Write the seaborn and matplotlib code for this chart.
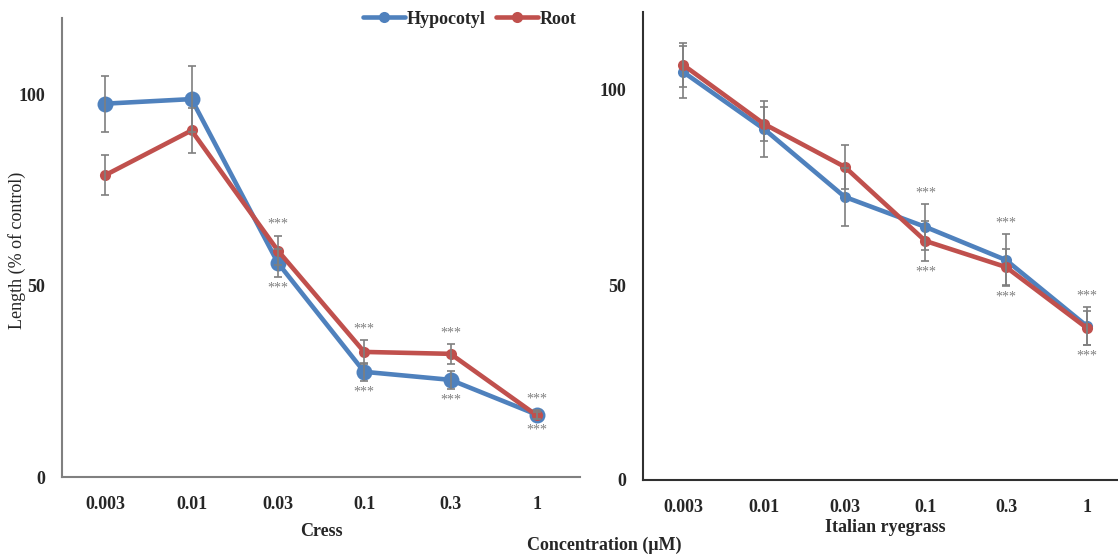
import numpy as np
import matplotlib
matplotlib.use("Agg")
import matplotlib.pyplot as plt
import seaborn as sns

CONCENTRATIONS = ["0.003", "0.01", "0.03", "0.1", "0.3", "1"]

cress_hypocotyl = [97.6, 98.8, 56.0, 27.5, 25.4, 16.3]
cress_hypocotyl_err = [7.3, 8.6, 3.6, 2.3, 2.3, 1.2]
cress_root = [78.9, 90.6, 59.2, 32.7, 32.2, 16.1]
cress_root_err = [5.2, 6.0, 3.9, 3.2, 2.6, 1.0]

rye_hypocotyl = [104.6, 90.0, 72.6, 64.9, 56.4, 39.5]
rye_hypocotyl_err = [6.6, 7.2, 7.5, 5.9, 6.7, 4.9]
rye_root = [106.4, 91.3, 80.3, 61.3, 54.6, 39.0]
rye_root_err = [5.7, 4.3, 5.6, 5.1, 4.6, 4.3]

# indices of concentrations marked *** (above and below the pair)
cress_sig = [2, 3, 4, 5]
rye_sig = [3, 4, 5]

BLUE = "#4F81BD"
RED = "#C0504D"
ERR = "#7f7f7f"

sns.set_style("white")
plt.rcParams["font.family"] = ["Liberation Serif", "DejaVu Serif"]


def draw_panel(ax, hyp, hyp_err, root, root_err, sig, hyp_ms, spine_color,
               xlabel, labelpad):
    x = np.arange(len(CONCENTRATIONS))
    sns.lineplot(x=x, y=hyp, ax=ax, color=BLUE, marker="o", markersize=hyp_ms,
                 markeredgecolor=BLUE, markeredgewidth=0, linewidth=3.3,
                 label="Hypocotyl", legend=False, zorder=2)
    sns.lineplot(x=x, y=root, ax=ax, color=RED, marker="o", markersize=8,
                 markeredgecolor=RED, markeredgewidth=0, linewidth=3.3,
                 label="Root", legend=False, zorder=3)
    ax.errorbar(x, hyp, yerr=hyp_err, fmt="none", ecolor=ERR, elinewidth=1.2,
                capsize=3, capthick=1.2, zorder=4)
    ax.errorbar(x, root, yerr=root_err, fmt="none", ecolor=ERR, elinewidth=1.2,
                capsize=3, capthick=1.2, zorder=4)

    hyp = np.array(hyp)
    root = np.array(root)
    top = np.maximum(hyp + np.array(hyp_err), root + np.array(root_err))
    bot = np.minimum(hyp - np.array(hyp_err), root - np.array(root_err))
    for i in sig:
        ax.annotate("***", (i, top[i]), xytext=(0, 8), textcoords="offset points",
                    ha="center", va="center", fontsize=10, color=ERR)
        ax.annotate("***", (i, bot[i]), xytext=(0, -8), textcoords="offset points",
                    ha="center", va="center", fontsize=10, color=ERR)

    ax.set_xlim(-0.5, len(CONCENTRATIONS) - 0.5)
    ax.set_ylim(0, 120)
    ax.set_xticks(x)
    ax.set_xticklabels(CONCENTRATIONS)
    ax.set_yticks([0, 50, 100])
    ax.tick_params(axis="both", length=0, labelsize=13)
    ax.tick_params(axis="x", pad=14)
    ax.tick_params(axis="y", pad=12)
    for lab in ax.get_xticklabels() + ax.get_yticklabels():
        lab.set_fontweight("bold")
    for side in ["top", "right"]:
        ax.spines[side].set_visible(False)
    for side in ["left", "bottom"]:
        ax.spines[side].set_color(spine_color)
        ax.spines[side].set_linewidth(1.5)
    ax.set_xlabel(xlabel, fontsize=13, fontweight="bold", labelpad=labelpad)
    ax.set_ylabel("")


fig = plt.figure(figsize=(11.18, 5.59), dpi=100)
ax1 = fig.add_axes([62 / 1118, 82 / 559, 518 / 1118, 459 / 559])
ax2 = fig.add_axes([643 / 1118, 79 / 559, 484 / 1118, 468 / 559])

draw_panel(ax1, cress_hypocotyl, cress_hypocotyl_err, cress_root, cress_root_err,
           cress_sig, 11.5, "#808080", "Cress", 7)
draw_panel(ax2, rye_hypocotyl, rye_hypocotyl_err, rye_root, rye_root_err,
           rye_sig, 8, "#303030", "Italian ryegrass", 2)

fig.text(17 / 1118, 1 - 250 / 559, "Length (% of control)", rotation=90,
         ha="center", va="center", fontsize=13)
fig.text(604 / 1118, 1 - 545 / 559, "Concentration (μM)", ha="center",
         va="center", fontsize=13, fontweight="bold")

handles, labels = ax2.get_legend_handles_labels()
fig.legend(handles, labels, loc="center", bbox_to_anchor=(470 / 1118, 1 - 19 / 559),
           ncol=2, frameon=False, handlelength=2.3, handletextpad=0.1,
           columnspacing=0.6, prop={"size": 13, "weight": "bold"})

fig.savefig("out.png", dpi=100)
